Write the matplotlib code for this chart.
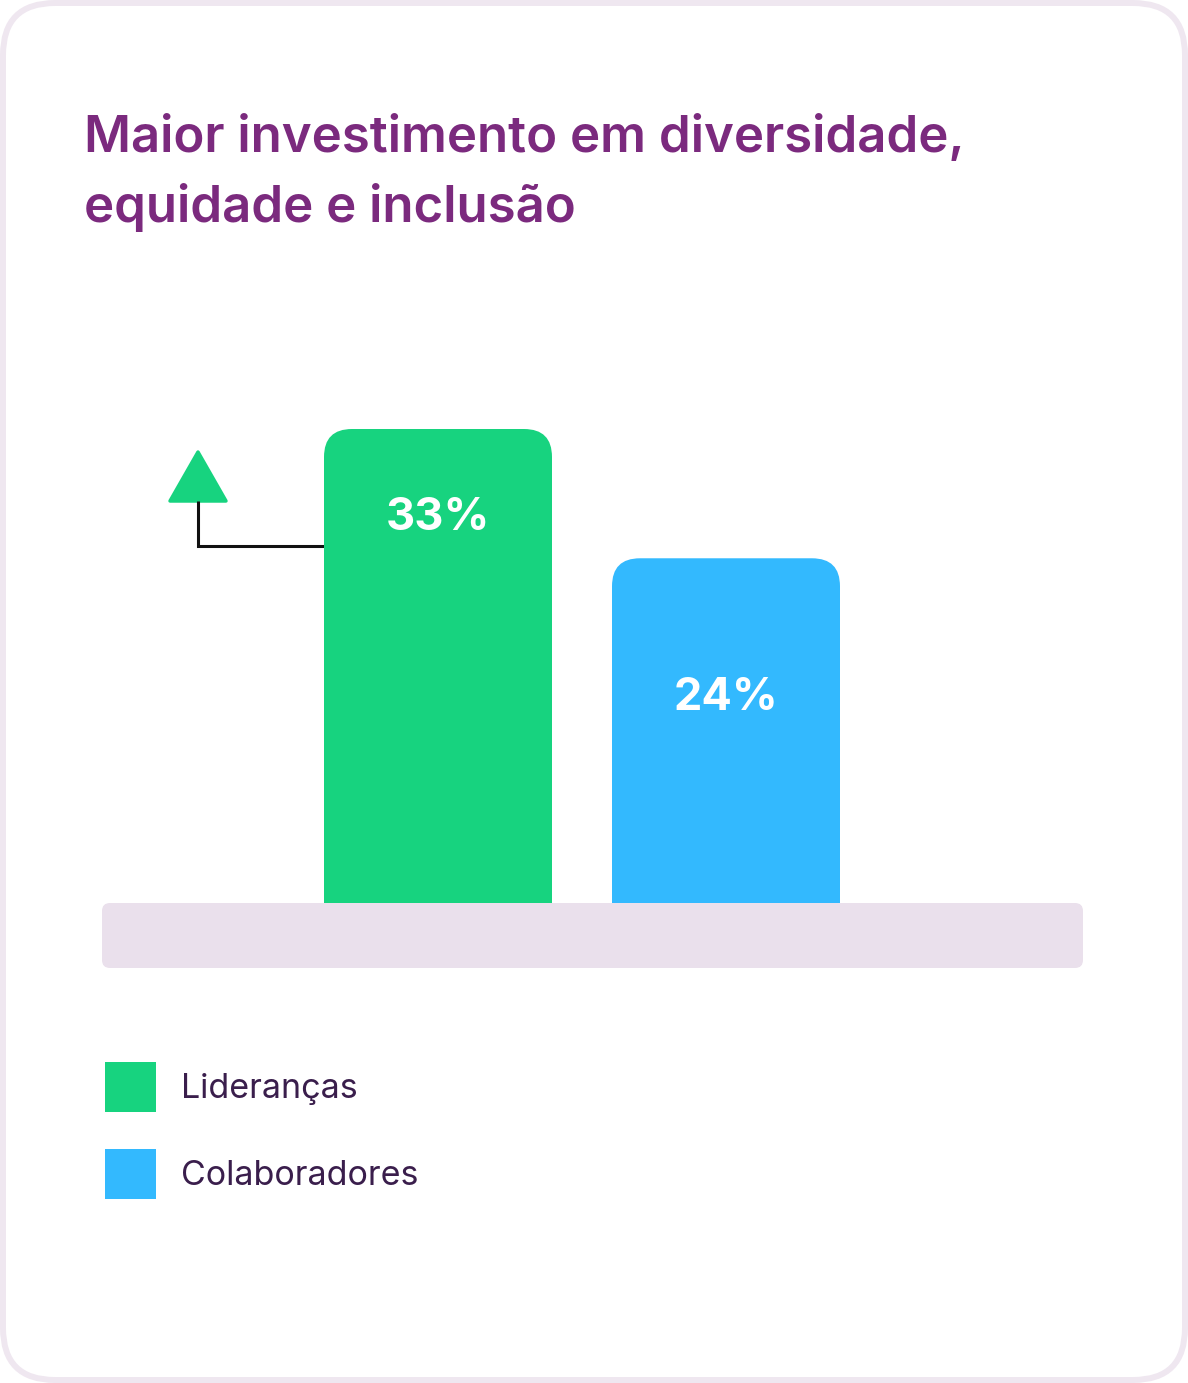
import matplotlib.pyplot as plt
from matplotlib.patches import FancyBboxPatch, Polygon, Rectangle

# data
categories = ["Lideranças", "Colaboradores"]
values = [33, 24]
value_labels = ["33%", "24%"]
colors = ["#17d37f", "#33b9fe"]
title_lines = ["Maior investimento em diversidade,", "equidade e inclusão"]

W, H = 1188, 1383
FONT = ["Inter", "DejaVu Sans"]

fig = plt.figure(figsize=(W / 100, H / 100), dpi=100)
fig.patch.set_facecolor("white")

# background axes in pixel coords
bg = fig.add_axes([0, 0, 1, 1])
bg.set_xlim(0, W)
bg.set_ylim(H, 0)
bg.axis("off")

# card border
card = FancyBboxPatch((3, 3), W - 6, H - 6, boxstyle="round,pad=0,rounding_size=52",
                      facecolor="white", edgecolor="#efe7f0", linewidth=4.3)
bg.add_patch(card)

# title
for i, line in enumerate(title_lines):
    bg.text(84, 152 + i * 70, line, fontsize=36.7, fontweight="semibold", color="#7b2a7e",
            family=FONT, va="baseline", ha="left")

# platform under the bars
platform = FancyBboxPatch((102, 903), 981, 65, boxstyle="round,pad=0,rounding_size=8",
                          facecolor="#eae0ec", edgecolor="none")
bg.add_patch(platform)

# up arrow with connector
tri = Polygon([(198, 452), (170, 501), (226, 501)], closed=True, facecolor=colors[0],
              edgecolor=colors[0], linewidth=2.5, joinstyle="round")
bg.add_patch(tri)
bg.plot([198, 198, 324], [501, 546, 546], color="#111111", linewidth=2.2,
        solid_joinstyle="miter", solid_capstyle="butt")

# legend
for i, (cat, col) in enumerate(zip(categories, colors)):
    y0 = 1062 + i * 87
    bg.add_patch(Rectangle((105, y0), 51, 50, facecolor=col, edgecolor="none"))
    bg.text(181, y0 + 27, cat, fontsize=24.5, color="#3a1e4c", family=FONT,
            va="center", ha="left")

# bar axes
ax_left, ax_right, ax_bottom, ax_top = 102, 1083, 903, 403
ax = fig.add_axes([ax_left / W, (H - ax_bottom) / H, (ax_right - ax_left) / W,
                   (ax_bottom - ax_top) / H])
ax.patch.set_alpha(0)
ax.axis("off")
px_per_x = 288
px_per_y = 474 / values[0]
ax.set_xlim(-(438 - ax_left) / px_per_x, 1 + (ax_right - 726) / px_per_x)
ax.set_ylim(0, (ax_bottom - ax_top) / px_per_y)

x = list(range(len(categories)))
bars = ax.bar(x, values, width=228 / px_per_x, color=colors)
radius = 28 / px_per_x
label_offset_px = [89, 140]
for b, col, lab, off in zip(bars, colors, value_labels, label_offset_px):
    b.set_visible(False)
    rb = FancyBboxPatch((b.get_x(), -5), b.get_width(), b.get_height() + 5,
                        boxstyle=f"round,pad=0,rounding_size={radius}",
                        mutation_aspect=px_per_x / px_per_y,
                        facecolor=col, edgecolor="none")
    ax.add_patch(rb)
    ax.text(b.get_x() + b.get_width() / 2, b.get_height() - off / px_per_y, lab,
            fontsize=32.5, fontweight="bold", color="white", family=FONT,
            ha="center", va="center")

fig.savefig("out.png", dpi=100)
